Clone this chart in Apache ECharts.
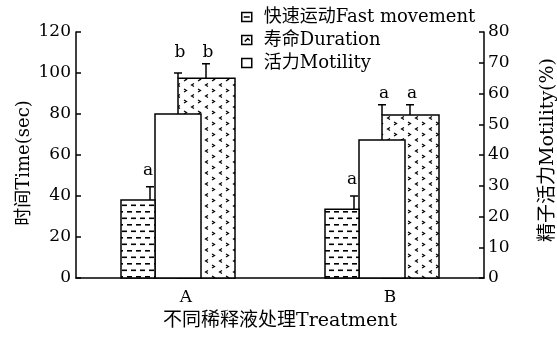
<!DOCTYPE html>
<html>
<head>
<meta charset="utf-8">
<script src="https://cdn.jsdelivr.net/npm/echarts@6/dist/echarts.min.js"></script>
<style>html,body{margin:0;padding:0;background:#fff;}#chart{width:557px;height:337px;}</style>
</head>
<body>
<div id="chart"></div>
<script>
// ---- data ----
const categories = ['A', 'B'];
const seriesNames = ['快速运动Fast movement', '寿命Duration', '活力Motility'];
const fastMovement = [38, 33.5];        // sec (left axis)
const fastErrTop = [44.5, 40];
const duration = [97.5, 79.5];          // sec (left axis)
const durationErrTopL = [100, 84.5];
const durationErrTopR = [104.5, 84.5];
const motility = [53.3, 44.9];          // % (right axis)
const lettersFast = ['a', 'a'];
const lettersDurL = ['b', 'a'];
const lettersDurR = ['b', 'a'];
const leftAxis = { min: 0, max: 120, interval: 20 };
const rightAxis = { min: 0, max: 80, interval: 10 };

// ---- styles ----
const FONT = '"DejaVu Serif", "Noto Sans CJK SC", serif';
function makePattern(w, h, draw) {
  const cv = document.createElement('canvas');
  cv.width = w; cv.height = h;
  const ctx = cv.getContext('2d');
  ctx.fillStyle = '#fff'; ctx.fillRect(0, 0, w, h);
  ctx.fillStyle = '#000'; ctx.strokeStyle = '#000';
  draw(ctx);
  return cv;
}
const dashPat = makePattern(9, 13, ctx => {
  ctx.fillRect(1, 3, 5, 1.6);
  ctx.fillRect(5, 9.5, 5, 1.6);
  ctx.fillRect(-4, 9.5, 5, 1.6);
});
const chevPat = makePattern(14, 11, ctx => {
  ctx.lineWidth = 1.2;
  ctx.beginPath();
  ctx.moveTo(2, 1); ctx.lineTo(4.5, 2.5); ctx.lineTo(2, 4);
  ctx.moveTo(12, 6.5); ctx.lineTo(9.5, 8); ctx.lineTo(12, 9.5);
  ctx.stroke();
});

function errBar(x, yTop, yBase) {
  return [
    { type: 'line', shape: { x1: x, y1: yBase, x2: x, y2: yTop }, style: { stroke: '#000', lineWidth: 1.5 } },
    { type: 'line', shape: { x1: x - 4, y1: yTop, x2: x + 4, y2: yTop }, style: { stroke: '#000', lineWidth: 1.5 } }
  ];
}
function letter(x, y, t) {
  return { type: 'text', style: { x: x, y: y, text: t, font: '17px ' + FONT, fill: '#000', align: 'center', verticalAlign: 'bottom' } };
}
function rectEl(x0, x1, yTop, yBase, fill) {
  return { type: 'rect', shape: { x: x0, y: yTop, width: x1 - x0, height: yBase - yTop },
    style: { fill: fill, stroke: '#000', lineWidth: 1.5 } };
}

const chart = echarts.init(document.getElementById('chart'));
chart.setOption({
  animation: false,
  backgroundColor: '#fff',
  grid: { left: 76, right: 73, top: 32, bottom: 59, outerBoundsMode: 'none', containLabel: false },
  legend: {
    orient: 'vertical', left: 236, top: 3, itemGap: 5,
    itemWidth: 10, itemHeight: 9,
    itemStyle: { color: '#fff', borderColor: '#000', borderWidth: 1.5 },
    textStyle: { fontFamily: FONT, fontSize: 18, color: '#000', padding: [0, 0, 0, 7], lineHeight: 18 },
    data: [
      { name: seriesNames[0], icon: 'path://M0,0L10,0L10,9L0,9Z M2,4.5L8,4.5' },
      { name: seriesNames[1], icon: 'path://M0,0L10,0L10,9L0,9Z M3,6L6,3L8,5' },
      { name: seriesNames[2], icon: 'path://M0,0L10,0L10,9L0,9Z' }
    ]
  },
  xAxis: {
    type: 'category', data: categories,
    axisLine: { lineStyle: { color: '#000', width: 1.5 } },
    axisTick: { show: false },
    axisLabel: { fontFamily: FONT, fontSize: 17, color: '#000', margin: 11, padding: [0, 0, 0, 16] },
    name: '不同稀释液处理Treatment', nameLocation: 'middle', nameGap: 34, nameMoveOverlap: false,
    nameTextStyle: { fontFamily: FONT, fontSize: 19, color: '#000' }
  },
  yAxis: [
    {
      type: 'value', min: leftAxis.min, max: leftAxis.max, interval: leftAxis.interval,
      position: 'left',
      axisLine: { show: true, lineStyle: { color: '#000', width: 1.5 } },
      axisTick: { show: true, inside: true, length: 5, lineStyle: { color: '#000', width: 1.5 } },
      axisLabel: { fontFamily: FONT, fontSize: 17, color: '#000', margin: 5 },
      splitLine: { show: false },
      name: '时间Time(sec)', nameLocation: 'middle', nameGap: 43, nameRotate: 90, nameMoveOverlap: false,
      nameTextStyle: { fontFamily: FONT, fontSize: 18, color: '#000', padding: [0, 16, 0, 0] }
    },
    {
      type: 'value', min: rightAxis.min, max: rightAxis.max, interval: rightAxis.interval,
      position: 'right',
      axisLine: { show: true, lineStyle: { color: '#000', width: 1.5 } },
      axisTick: { show: true, inside: true, length: 5, lineStyle: { color: '#000', width: 1.5 } },
      axisLabel: { fontFamily: FONT, fontSize: 17, color: '#000', margin: 4 },
      splitLine: { show: false },
      name: '精子活力Motility(%)', nameLocation: 'middle', nameGap: 55, nameRotate: 90, nameMoveOverlap: false,
      nameTextStyle: { fontFamily: FONT, fontSize: 19, color: '#000', padding: [0, 0, 0, 10] }
    }
  ],
  series: [
    {
      name: seriesNames[1], type: 'custom', yAxisIndex: 0, z: 2,
      itemStyle: { color: '#fff', borderColor: '#000' },
      data: categories.map((c, i) => [i, duration[i], durationErrTopL[i], durationErrTopR[i]]),
      renderItem: function (params, api) {
        const i = params.dataIndex;
        const base = api.coord([api.value(0), 0]);
        const cx = base[0], y0 = base[1];
        const yTop = api.coord([api.value(0), api.value(1)])[1];
        const eL = api.coord([api.value(0), api.value(2)])[1];
        const eR = api.coord([api.value(0), api.value(3)])[1];
        const xL = cx, xR = cx + 28;
        const ly = Math.min(eL, eR) - 3;
        return { type: 'group', children: [
          rectEl(cx, cx + 57, yTop, y0, { image: chevPat, repeat: 'repeat' }),
          ...errBar(xL, eL, yTop), ...errBar(xR, eR, yTop),
          letter(xL + 2, ly, lettersDurL[i]), letter(xR + 2, ly, lettersDurR[i])
        ] };
      }
    },
    {
      name: seriesNames[2], type: 'custom', yAxisIndex: 1, z: 3,
      itemStyle: { color: '#fff', borderColor: '#000' },
      data: categories.map((c, i) => [i, motility[i]]),
      renderItem: function (params, api) {
        const base = api.coord([api.value(0), 0]);
        const cx = base[0], y0 = base[1];
        const yTop = api.coord([api.value(0), api.value(1)])[1];
        return { type: 'group', children: [ rectEl(cx - 23, cx + 23, yTop, y0, '#fff') ] };
      }
    },
    {
      name: seriesNames[0], type: 'custom', yAxisIndex: 0, z: 4,
      itemStyle: { color: '#fff', borderColor: '#000' },
      data: categories.map((c, i) => [i, fastMovement[i], fastErrTop[i]]),
      renderItem: function (params, api) {
        const i = params.dataIndex;
        const base = api.coord([api.value(0), 0]);
        const cx = base[0], y0 = base[1];
        const yTop = api.coord([api.value(0), api.value(1)])[1];
        const e = api.coord([api.value(0), api.value(2)])[1];
        const xe = cx - 28;
        return { type: 'group', children: [
          rectEl(cx - 57, cx - 23, yTop, y0, { image: dashPat, repeat: 'repeat' }),
          ...errBar(xe, e, yTop),
          letter(xe - 2, e - 8, lettersFast[i])
        ] };
      }
    }
  ]
});
</script>
</body>
</html>
